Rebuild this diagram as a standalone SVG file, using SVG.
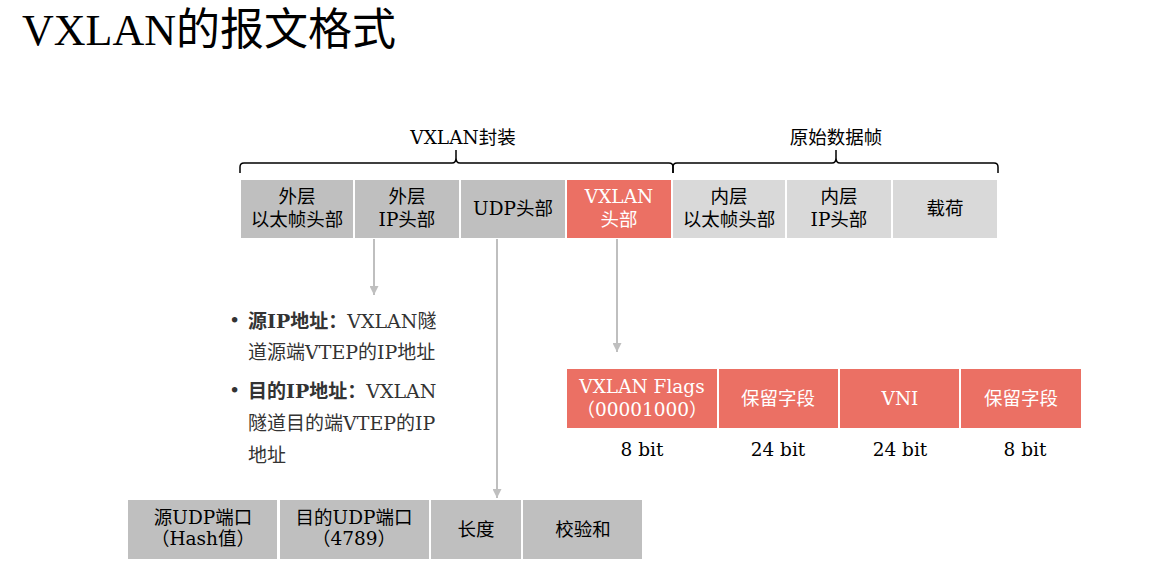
<svg xmlns="http://www.w3.org/2000/svg" width="1168" height="585" viewBox="0 0 1168 585">
<style>
text{font-family:"DejaVu Serif","Noto Sans CJK SC",serif;font-size:18.5px;fill:#000;text-anchor:middle}
.title{font-family:"Liberation Serif","Noto Sans CJK SC",serif;font-size:44px;text-anchor:start}
.g1{fill:#BFBFBF}
.g2{fill:#D9D9D9}
.r{fill:#EB7064}
.w{fill:#fff}
.bl{text-anchor:start;fill:#333;font-size:19px}
.b{font-weight:bold}
.brace{fill:none;stroke:#000;stroke-width:1.5}
.arr{stroke:#BFBFBF;stroke-width:2;fill:none;marker-end:url(#ah)}
</style>
<defs>
<marker id="ah" viewBox="0 0 10 10" refX="10" refY="5" markerWidth="4.5" markerHeight="4.5" orient="auto" markerUnits="strokeWidth">
<path d="M0,0 L10,5 L0,10 z" fill="#BFBFBF"/>
</marker>
</defs>
<rect width="1168" height="585" fill="#fff"/>
<text class="title" x="22" y="45">VXLAN的报文格式</text>

<g id="braces">
<text x="463" y="144">VXLAN封装</text>
<path class="brace" d="M240,173 L240,167 Q240,163 244,163 L452,163 Q456,163 456,158 L456,150 M456,158 Q456,163 460,163 L669,163 Q673,163 673,167 L673,173"/>
<text x="836" y="144">原始数据帧</text>
<path class="brace" d="M673,173 L673,167 Q673,163 677,163 L832,163 Q836,163 836,158 L836,150 M836,158 Q836,163 840,163 L994,163 Q998,163 998,167 L998,173"/>
</g>

<g id="outer-eth"><rect class="g1" x="241" y="180" width="112" height="58"/><text x="297" y="203">外层</text><text x="297" y="226">以太帧头部</text></g>
<g id="outer-ip"><rect class="g1" x="355" y="180" width="104" height="58"/><text x="407" y="203">外层</text><text x="407" y="226">IP头部</text></g>
<g id="udp-hdr"><rect class="g1" x="461" y="180" width="104" height="58"/><text x="513" y="215">UDP头部</text></g>
<g id="vxlan-hdr"><rect class="r" x="567" y="180" width="104" height="58"/><text class="w" x="619" y="203">VXLAN</text><text class="w" x="619" y="226">头部</text></g>
<g id="inner-eth"><rect class="g2" x="673" y="180" width="112" height="58"/><text x="729" y="203">内层</text><text x="729" y="226">以太帧头部</text></g>
<g id="inner-ip"><rect class="g2" x="787" y="180" width="104" height="58"/><text x="839" y="203">内层</text><text x="839" y="226">IP头部</text></g>
<g id="payload"><rect class="g2" x="893" y="180" width="104" height="58"/><text x="945" y="215">载荷</text></g>

<g id="connectors">
<line class="arr" x1="374" y1="239" x2="374" y2="295"/>
<line class="arr" x1="497" y1="239" x2="497" y2="498"/>
<line class="arr" x1="617" y1="239" x2="617" y2="352"/>
</g>

<g id="ip-notes">
<text class="bl" x="229" y="327">•</text>
<text class="bl" x="248" y="328"><tspan class="b">源IP地址：</tspan>VXLAN隧</text>
<text class="bl" x="248" y="359">道源端VTEP的IP地址</text>
<text class="bl" x="229" y="397">•</text>
<text class="bl" x="248" y="398"><tspan class="b">目的IP地址：</tspan>VXLAN</text>
<text class="bl" x="248" y="430">隧道目的端VTEP的IP</text>
<text class="bl" x="248" y="462">地址</text>
</g>

<g id="vx-flags"><rect class="r" x="567" y="369" width="150" height="59"/><text class="w" x="642" y="393">VXLAN Flags</text><text class="w" x="642" y="416">（00001000）</text><text x="642" y="456">8 bit</text></g>
<g id="vx-res1"><rect class="r" x="719" y="369" width="119" height="59"/><text class="w" x="778" y="405">保留字段</text><text x="778" y="456">24 bit</text></g>
<g id="vx-vni"><rect class="r" x="840" y="369" width="119" height="59"/><text class="w" x="900" y="405">VNI</text><text x="900" y="456">24 bit</text></g>
<g id="vx-res2"><rect class="r" x="961" y="369" width="120" height="59"/><text class="w" x="1021" y="405">保留字段</text><text x="1025" y="456">8 bit</text></g>

<g id="udp-src"><rect class="g1" x="128" y="500" width="149" height="59"/><text x="203" y="524">源UDP端口</text><text x="203" y="545">（Hash值）</text></g>
<g id="udp-dst"><rect class="g1" x="280" y="500" width="149" height="59"/><text x="354" y="524">目的UDP端口</text><text x="354" y="545">（4789）</text></g>
<g id="udp-len"><rect class="g1" x="431" y="500" width="90" height="59"/><text x="476" y="536">长度</text></g>
<g id="udp-sum"><rect class="g1" x="523" y="500" width="119" height="59"/><text x="583" y="536">校验和</text></g>
</svg>
